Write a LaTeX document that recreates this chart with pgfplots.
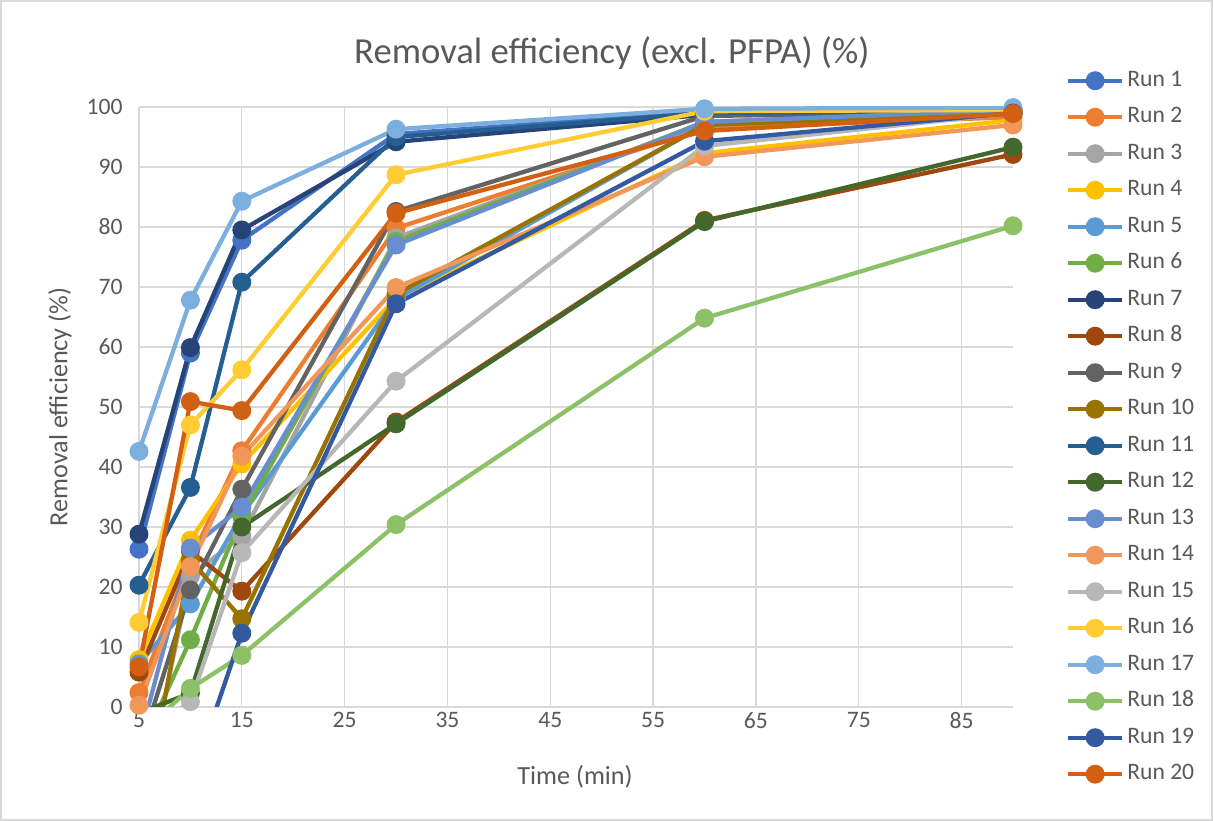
\documentclass[border=0pt]{standalone}
\usepackage{fontspec}
\setmainfont{Carlito}
\usepackage{pgfplots}
\usepackage{pgfplotstable}
\pgfplotsset{compat=1.18}
\definecolor{c1}{HTML}{4472C4}
\definecolor{c2}{HTML}{ED7D31}
\definecolor{c3}{HTML}{A5A5A5}
\definecolor{c4}{HTML}{FFC000}
\definecolor{c5}{HTML}{5B9BD5}
\definecolor{c6}{HTML}{70AD47}
\definecolor{c7}{HTML}{264478}
\definecolor{c8}{HTML}{9E480E}
\definecolor{c9}{HTML}{636363}
\definecolor{c10}{HTML}{997300}
\definecolor{c11}{HTML}{255E91}
\definecolor{c12}{HTML}{43682B}
\definecolor{c13}{HTML}{698ED0}
\definecolor{c14}{HTML}{F1975A}
\definecolor{c15}{HTML}{B7B7B7}
\definecolor{c16}{HTML}{FFCD33}
\definecolor{c17}{HTML}{7CAFDD}
\definecolor{c18}{HTML}{8CC168}
\definecolor{c19}{HTML}{335AA1}
\definecolor{c20}{HTML}{D26012}
\definecolor{gridc}{HTML}{D9D9D9}
\definecolor{txt}{HTML}{595959}

\pgfplotstableread{
t  r1   r2   r3    r4   r5   r6   r7   r8   r9   r10  r11  r12  r13  r14  r15  r16  r17  r18  r19   r20
5  26.3 2.4  -18.7 7.9  7.2  -7.5 28.8 5.8  -7.5 -22  20.3 -1   -5.8 0.3  -5   14.1 42.6 -4.6 -20   6.7
10 59.0 24.5 21.8  27.8 17.2 11.2 59.9 26.0 19.5 24.5 36.6 2.3  26.5 23.4 0.9  47.0 67.8 3.1  -12.9 50.9
15 77.8 42.7 28.5  40.5 32.0 31.7 79.5 19.3 36.3 14.7 70.8 30.0 33.3 41.8 25.7 56.2 84.3 8.6  12.3  49.4
30 95.5 79.8 78.2  68.2 68.0 77.6 94.2 47.5 82.6 68.8 95.0 47.2 77.0 69.9 54.3 88.7 96.3 30.4 67.2  82.3
60 99.2 96.5 97.3  92.3 97.0 97.5 98.7 81.1 98.5 97.0 99.0 80.9 97.5 91.7 93.5 99.3 99.7 64.8 94.3  96.0
90 99.5 98.3 99.0  97.8 99.5 99.3 98.8 92.1 99.2 99.0 99.3 93.3 99.5 97.0 99.0 99.5 99.9 80.2 99.0  98.9
}\data

\begin{document}
\begin{tikzpicture}
\useasboundingbox (0,0) rectangle (1213bp,821bp);
\draw[color=gridc, line width=1.5bp] (1bp,1bp) rectangle (1212bp,820bp);
\begin{axis}[
  at={(139bp,114bp)}, anchor=south west,
  scale only axis, width=874bp, height=600bp,
  xmin=5, xmax=90, ymin=0, ymax=100,
  xtick={5,15,...,85}, ytick={0,10,...,100},
  grid=major, grid style={line width=1.3bp, color=gridc},
  axis line style={draw=none}, major tick length=0pt,
  tick label style={font=\fontsize{23.6bp}{28bp}\selectfont, text=txt},
  /pgf/number format/assume math mode=true,
  yticklabel style={xshift=-13bp},
  xticklabel style={yshift=-2bp},
  xlabel={Time (min)},
  ylabel={Removal efficiency (\%)},
  xlabel style={at={(0.4989,-0.1167)}, anchor=center, font=\fontsize{26.2bp}{31bp}\selectfont, text=txt},
  ylabel style={at={(-0.0904,0.5)}, anchor=center, font=\fontsize{26.2bp}{31bp}\selectfont, text=txt},
  title={Removal efficiency (excl. PFPA) (\%)},
  title style={at={(0.541,1.08)}, anchor=center, font=\fontsize{36.7bp}{44bp}\selectfont, text=txt},
  every axis plot/.append style={line width=4.3bp, mark=*, mark size=7.3bp},
  legend style={at={(1.057,1.0633)}, anchor=north west, draw=none, fill=none,
    font=\fontsize{23.6bp}{28bp}\selectfont, text=txt,
    nodes={inner sep=0pt, text height=15bp, text depth=4bp},
    row sep=17.5bp,
    /tikz/every odd column/.append style={column sep=3bp}},
  legend cell align=left,
  legend image code/.code={\draw[mark repeat=2,mark phase=2,#1] plot coordinates {(0bp,0bp) (27bp,0bp) (54bp,0bp)};},
]
\addplot[c1] table[x=t,y=r1]{\data}; \addlegendentry{Run 1}
\addplot[c2] table[x=t,y=r2]{\data}; \addlegendentry{Run 2}
\addplot[c3] table[x=t,y=r3]{\data}; \addlegendentry{Run 3}
\addplot[c4] table[x=t,y=r4]{\data}; \addlegendentry{Run 4}
\addplot[c5] table[x=t,y=r5]{\data}; \addlegendentry{Run 5}
\addplot[c6] table[x=t,y=r6]{\data}; \addlegendentry{Run 6}
\addplot[c7] table[x=t,y=r7]{\data}; \addlegendentry{Run 7}
\addplot[c8] table[x=t,y=r8]{\data}; \addlegendentry{Run 8}
\addplot[c9] table[x=t,y=r9]{\data}; \addlegendentry{Run 9}
\addplot[c10] table[x=t,y=r10]{\data}; \addlegendentry{Run 10}
\addplot[c11] table[x=t,y=r11]{\data}; \addlegendentry{Run 11}
\addplot[c12] table[x=t,y=r12]{\data}; \addlegendentry{Run 12}
\addplot[c13] table[x=t,y=r13]{\data}; \addlegendentry{Run 13}
\addplot[c14] table[x=t,y=r14]{\data}; \addlegendentry{Run 14}
\addplot[c15] table[x=t,y=r15]{\data}; \addlegendentry{Run 15}
\addplot[c16] table[x=t,y=r16]{\data}; \addlegendentry{Run 16}
\addplot[c17] table[x=t,y=r17]{\data}; \addlegendentry{Run 17}
\addplot[c18] table[x=t,y=r18]{\data}; \addlegendentry{Run 18}
\addplot[c19] table[x=t,y=r19]{\data}; \addlegendentry{Run 19}
\addplot[c20] table[x=t,y=r20]{\data}; \addlegendentry{Run 20}
\end{axis}
\end{tikzpicture}
\end{document}
